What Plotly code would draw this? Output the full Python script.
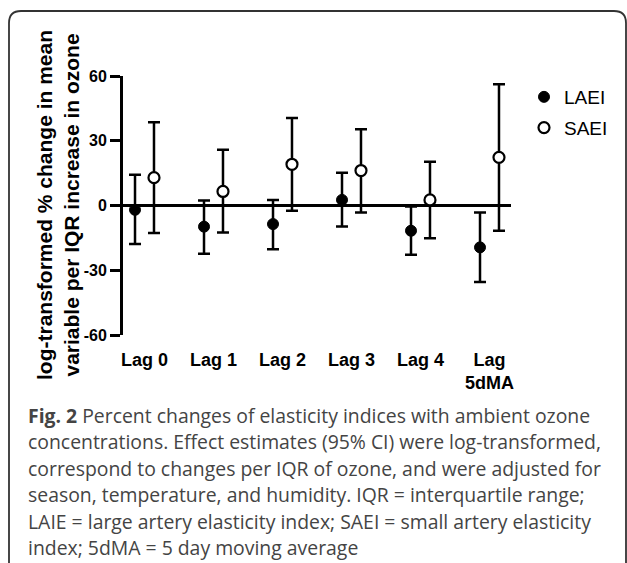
import plotly.graph_objects as go

categories = ["Lag 0", "Lag 1", "Lag 2", "Lag 3", "Lag 4", "Lag<br>5dMA"]
laei_est = [-2.0, -9.8, -8.6, 2.6, -11.7, -19.4]
laei_upper = [14.2, 2.3, 2.6, 15.2, -0.5, -3.2]
laei_lower = [-17.8, -22.3, -20.3, -9.7, -22.8, -35.4]
saei_est = [12.9, 6.5, 19.1, 16.2, 2.6, 22.3]
saei_upper = [38.6, 25.8, 40.5, 35.3, 20.3, 56.2]
saei_lower = [-12.7, -12.5, -2.4, -3.2, -15.2, -11.7]
y_ticks = [-60, -30, 0, 30, 60]
y_tick_labels = ["-60", "-30", "0", "30", "60"]
y_title = "log-transformed % change in mean<br>variable per IQR increase in ozone"

caption_lines = [
    "<b>Fig. 2</b> Percent changes of elasticity indices with ambient ozone",
    "concentrations. Effect estimates (95% CI) were log-transformed,",
    "correspond to changes per IQR of ozone, and were adjusted for",
    "season, temperature, and humidity. IQR = interquartile range;",
    "LAIE = large artery elasticity index; SAEI = small artery elasticity",
    "index; 5dMA = 5 day moving average",
]

W, H = 627, 563
L, R, T, B = 123, 511, 76, 335
pw, ph = R - L, B - T
offset = 0.1375
xpos = list(range(len(categories)))


def px_x(p):
    return (p - L) / pw


def px_y(p):
    return (B - p) / ph


fig = go.Figure()
fig.add_trace(go.Scatter(
    x=[i - offset for i in xpos], y=laei_est, mode="markers", name="LAEI",
    legendgroup="a",
    marker=dict(symbol="circle", size=11, color="black", line=dict(color="black", width=1)),
    error_y=dict(type="data", symmetric=False,
                 array=[u - e for u, e in zip(laei_upper, laei_est)],
                 arrayminus=[e - l for e, l in zip(laei_est, laei_lower)],
                 color="black", thickness=2.5, width=6),
    cliponaxis=False,
))
fig.add_trace(go.Scatter(
    x=[i + offset for i in xpos], y=saei_est, mode="markers", name="SAEI",
    legendgroup="b",
    marker=dict(symbol="circle", size=11, color="white", line=dict(color="black", width=2.2)),
    error_y=dict(type="data", symmetric=False,
                 array=[u - e for u, e in zip(saei_upper, saei_est)],
                 arrayminus=[e - l for e, l in zip(saei_est, saei_lower)],
                 color="black", thickness=2.5, width=6),
    cliponaxis=False,
))

xr0 = (L - 144.5) / 69
xr1 = (R - 144.5) / 69

annotations = []
for i, line in enumerate(caption_lines):
    annotations.append(dict(
        text=line, xref="paper", yref="paper", x=px_x(26), y=px_y(415 + 26.5 * i),
        xanchor="left", yanchor="middle", showarrow=False, align="left",
        font=dict(family="Open Sans", size=19.4, color="#444444"),
    ))
annotations.append(dict(
    text="<b>%s</b>" % y_title, xref="paper", yref="paper", x=px_x(58), y=px_y(205),
    xanchor="center", yanchor="middle", showarrow=False, textangle=-90,
    font=dict(family="Arial, Liberation Sans", size=21, color="black"),
))

xl, xr = px_x(9), px_x(626)
yt, yb = px_y(11), px_y(600)
rx, ry = 12 / pw, 12 / ph
frame = (f"M {xl},{yb} L {xl},{yt-ry} Q {xl},{yt} {xl+rx},{yt} "
         f"L {xr-rx},{yt} Q {xr},{yt} {xr},{yt-ry} L {xr},{yb}")

fig.update_layout(
    width=W, height=H,
    margin=dict(l=L, r=W - R, t=T, b=H - B),
    paper_bgcolor="white", plot_bgcolor="white",
    font=dict(family="Arial, Liberation Sans", color="black"),
    showlegend=True,
    legend=dict(x=px_x(524), y=px_y(78), xanchor="left", yanchor="top",
                font=dict(family="Arial, Liberation Sans", size=19, color="black"),
                tracegroupgap=3, itemwidth=30, bgcolor="rgba(0,0,0,0)"),
    xaxis=dict(range=[xr0, xr1], tickvals=xpos, ticktext=["<b>%s</b>" % c for c in categories],
               showline=False, showgrid=False, zeroline=False, ticks="",
               ticklabelstandoff=12,
               tickfont=dict(family="Arial, Liberation Sans", size=18, color="black")),
    yaxis=dict(range=[-60, 60], tickvals=y_ticks, ticktext=["<b>%s</b>" % t for t in y_tick_labels],
               showline=True, linewidth=3, linecolor="black",
               showgrid=False, zeroline=True, zerolinewidth=3, zerolinecolor="black",
               ticks="outside", ticklen=10, tickwidth=3, tickcolor="black",
               tickfont=dict(family="Arial, Liberation Sans", size=16, color="black")),
    annotations=annotations,
    shapes=[dict(type="path", xref="paper", yref="paper", path=frame,
                 line=dict(color="#333333", width=1.8), layer="above")],
)

fig.write_html("out.html")
